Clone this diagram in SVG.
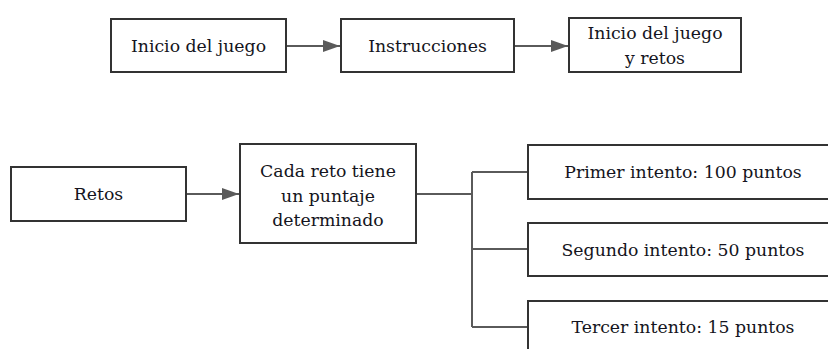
<svg xmlns="http://www.w3.org/2000/svg" width="828" height="349" viewBox="0 0 828 349">
<style>
.box{fill:#fff;stroke:#333;stroke-width:2}
.t{font-family:"DejaVu Serif","Liberation Serif",serif;font-size:17.3px;fill:#141420;text-anchor:middle;dominant-baseline:central}
.c{fill:none;stroke:#5a5a5a;stroke-width:2}
</style>
<defs>
<marker id="ah" markerWidth="18" markerHeight="12" refX="17" refY="6" orient="auto" markerUnits="userSpaceOnUse"><path d="M0,0 L17,6 L0,12 z" fill="#5a5a5a"/></marker>
</defs>
<rect width="828" height="349" fill="#fff"/>
<g id="connectors">
<line class="c" x1="287" y1="46" x2="340" y2="46" marker-end="url(#ah)"/>
<line class="c" x1="515" y1="46" x2="568" y2="46" marker-end="url(#ah)"/>
<line class="c" x1="187" y1="194" x2="239" y2="194" marker-end="url(#ah)"/>
<path class="c" d="M417,194 H472 M472,172 V327 M472,172 H528 M472,249 H528 M472,327 H528"/>
</g>
<g id="n1"><rect class="box" x="111" y="19" width="175" height="53"/><text class="t" x="198.5" y="45.5">Inicio del juego</text></g>
<g id="n2"><rect class="box" x="341" y="19" width="173" height="53"/><text class="t" x="427.5" y="45.5">Instrucciones</text></g>
<g id="n3"><rect class="box" x="569" y="18" width="172" height="54"/><text class="t" x="655" y="33">Inicio del juego</text><text class="t" x="655" y="58">y retos</text></g>
<g id="n4"><rect class="box" x="11" y="167" width="175" height="54"/><text class="t" x="98.5" y="194">Retos</text></g>
<g id="n5"><rect class="box" x="240" y="144" width="176" height="99"/><text class="t" x="328" y="171">Cada reto tiene</text><text class="t" x="328" y="196">un puntaje</text><text class="t" x="328" y="220">determinado</text></g>
<g id="n6"><rect class="box" x="528" y="145" width="310" height="54"/><text class="t" x="683" y="172">Primer intento: 100 puntos</text></g>
<g id="n7"><rect class="box" x="528" y="223" width="310" height="53"/><text class="t" x="683" y="249.5">Segundo intento: 50 puntos</text></g>
<g id="n8"><rect class="box" x="528" y="301" width="310" height="60"/><text class="t" x="683" y="327">Tercer intento: 15 puntos</text></g>
</svg>
